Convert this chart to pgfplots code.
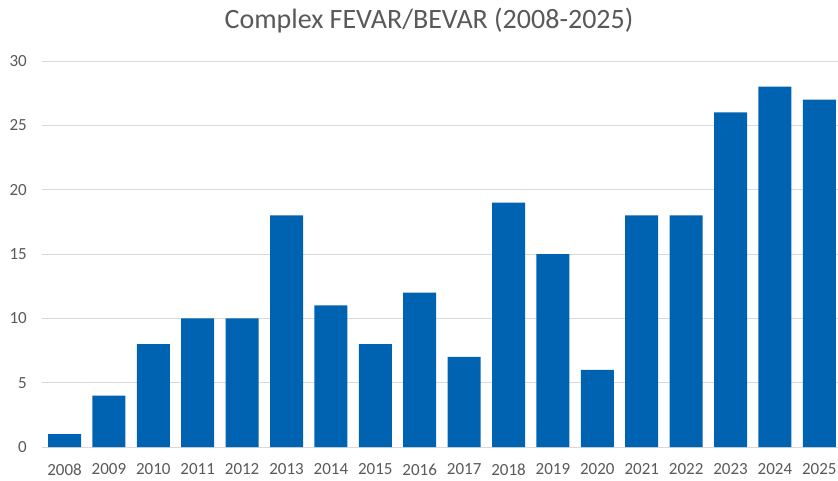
\documentclass[border=0pt]{standalone}
\usepackage{pgfplots}
\pgfplotsset{compat=1.18}
\usepackage{fontspec}
\setmainfont{Carlito}
\definecolor{barblue}{RGB}{0,99,177}
\definecolor{txtgray}{RGB}{89,89,89}
\definecolor{gridgray}{RGB}{217,217,217}
\begin{document}
\begin{tikzpicture}[x=1pt,y=1pt]
\path[use as bounding box] (0,0) rectangle (838,480);
\begin{axis}[
  at={(42.3pt,33pt)}, anchor=south west,
  scale only axis, width=795.7pt, height=386pt,
  xmin=-0.5, xmax=17.42, ymin=0, ymax=30,
  ytick={0,5,...,30},
  xtick={0,...,17},
  xticklabels={2008,2009,2010,2011,2012,2013,2014,2015,2016,2017,2018,2019,2020,2021,2022,2023,2024,2025},
  axis line style={draw=none},
  major tick length=0pt,
  ymajorgrids, grid style={gridgray, line width=0.8pt},
  tick label style={font=\fontsize{17}{19}\selectfont, text=txtgray},
  /pgf/number format/assume math mode=true,
  yticklabel style={xshift=-12pt},
  xticklabel style={yshift=-13pt},
  clip=false,
]
\addplot[ybar, bar width=33pt, fill=barblue, draw=none, bar shift=0pt] coordinates {
(0,1) (1,4) (2,8) (3,10) (4,10) (5,18) (6,11) (7,8) (8,12) (9,7) (10,19) (11,15) (12,6) (13,18) (14,18) (15,26) (16,28) (17,27)
};
\end{axis}
\node[text=txtgray, font=\fontsize{28}{32}\selectfont] at (429,459) {Complex FEVAR/BEVAR (2008-2025)};
\end{tikzpicture}
\end{document}
